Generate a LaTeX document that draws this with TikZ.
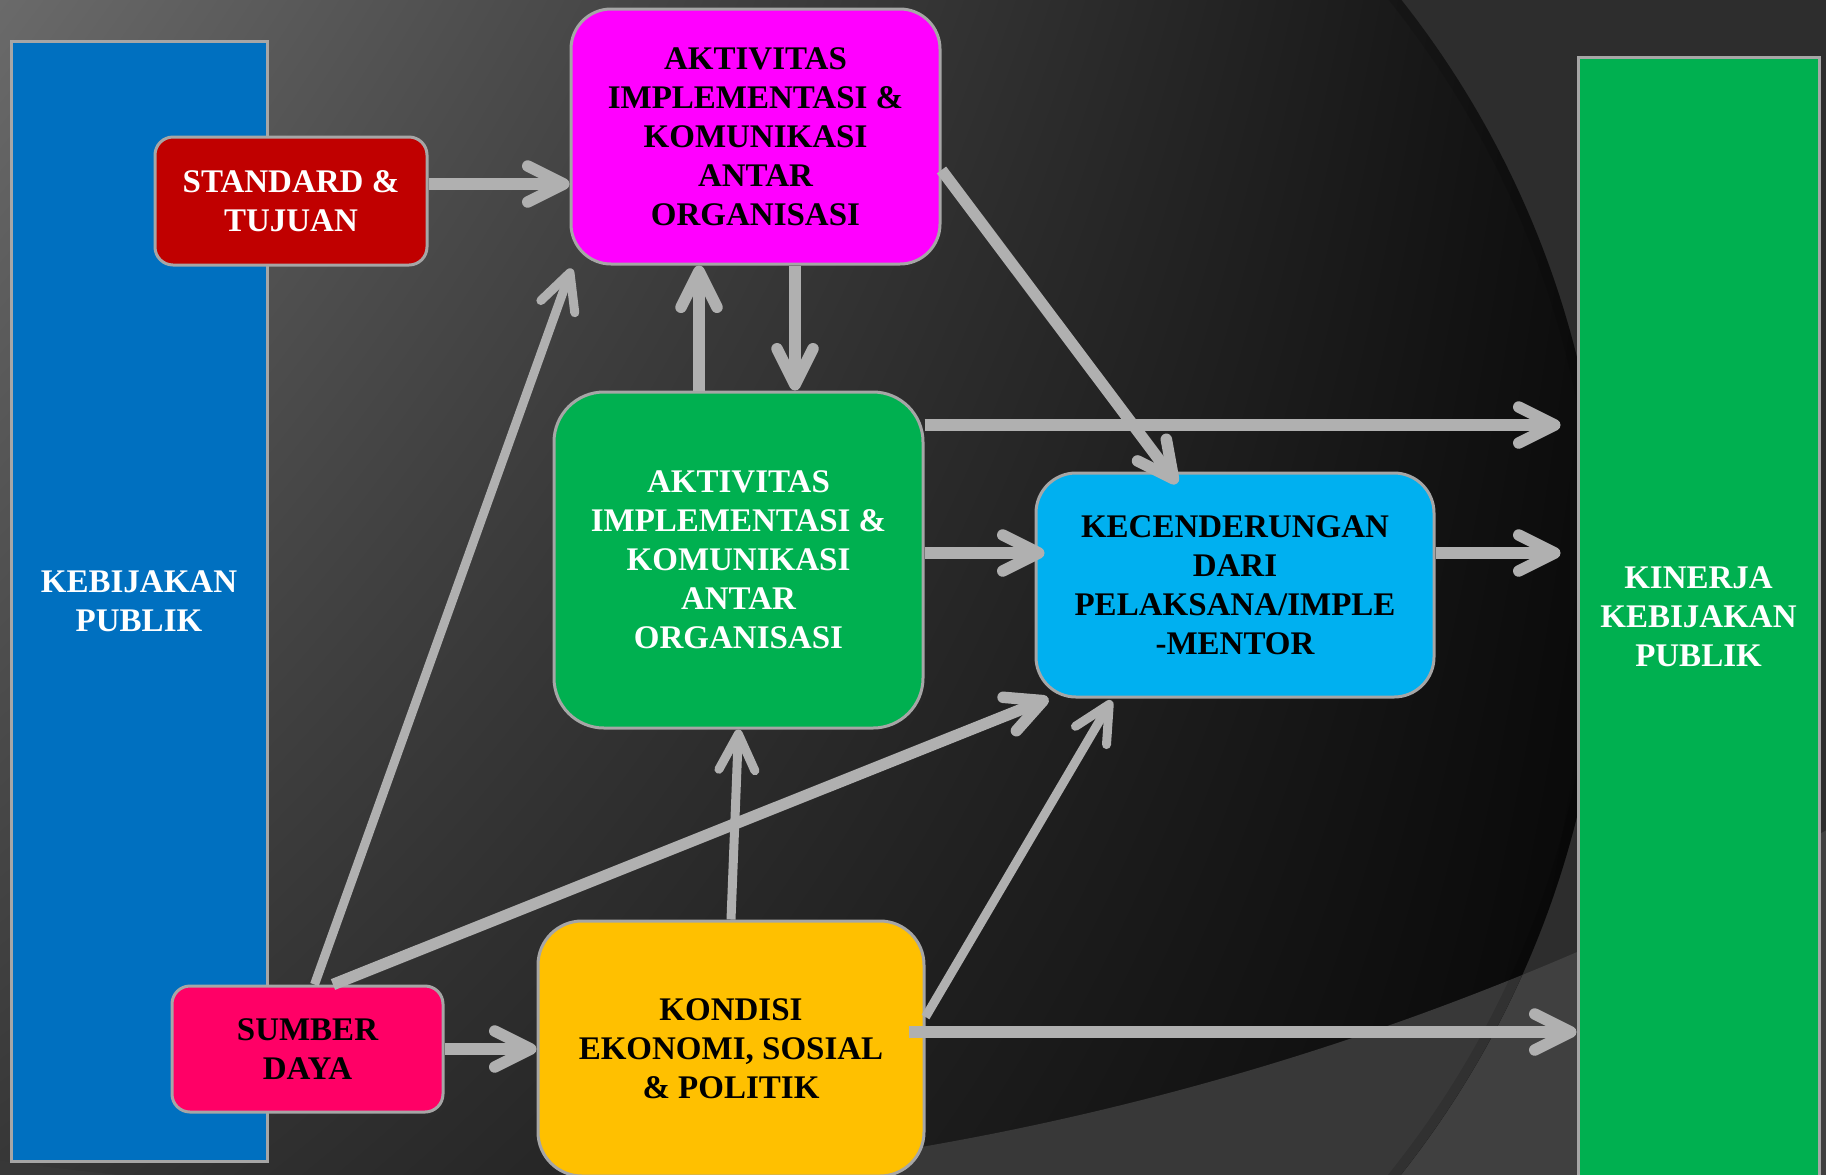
\documentclass[tikz,border=0pt]{standalone}
\usepackage{fontspec}
\setmainfont{Liberation Serif}
\usepackage{tikz}
\usetikzlibrary{arrows.meta, positioning, calc, shadings}

\definecolor{barblue}{HTML}{0070C0}
\definecolor{stdred}{HTML}{C00000}
\definecolor{aktmag}{HTML}{FF00FF}
\definecolor{aktgreen}{HTML}{00B050}
\definecolor{kecblue}{HTML}{00B0F0}
\definecolor{sumpink}{HTML}{FF0066}
\definecolor{konyellow}{HTML}{FFC000}
\definecolor{arrgray}{HTML}{B0B0B0}
\definecolor{edgegray}{HTML}{A6A6A6}
\definecolor{bgout}{HTML}{2D2D2D}
\definecolor{bglow}{HTML}{404040}
\definecolor{bglowin}{HTML}{383838}
\definecolor{bgtl}{HTML}{6B6B6B}
\definecolor{bgbl}{HTML}{363636}

\begin{document}
\begin{tikzpicture}[x=0.5pt, y=-0.5pt]

% ---- Styles ----------------------------------------------------------------
\tikzset{
  lbl/.style={font=\fontsize{16.5}{19.5}\selectfont\bfseries, align=center},
  sidebar/.style={lbl, draw=edgegray, line width=1.5pt, text=white},
  rbox/.style={lbl, draw=edgegray, line width=1.5pt, rounded corners=#1},
  arr/.style={draw=arrgray, line width=5.75pt,
              -{Straight Barb[length=18pt, width=18pt, round]}},
  thinarr/.style={arr, line width=4.5pt},
}

% ---- Background ------------------------------------------------------------
\useasboundingbox (0,0) rectangle (1826,1174);
\clip (-6,-6) rectangle (1832,1180);
\fill[bgout] (-10,-10) rectangle (1840,1190);
\fill[bglow, even odd rule] (-10,-10) rectangle (1840,1190) (418,-1742) circle (2932);
\begin{scope}
  \clip (657,587) circle (948);
  \shade[shading=bilinear interpolation, upper left=bgtl, upper right=black,
         lower left=bgbl, lower right=black]
    (-10,-10) rectangle (1840,1190);
  \fill[bglowin, even odd rule] (-10,-10) rectangle (1840,1190) (418,-1742) circle (2932);
  % soft shadow along the rim
  \draw[black, opacity=0.12, line width=10pt] (657,587) circle (948);
\end{scope}

% ---- Side bars -------------------------------------------------------------
\node[sidebar, fill=barblue, minimum width=128pt, minimum height=560pt]
  (keb) at (139,601) {KEBIJAKAN\\PUBLIK};
\node[sidebar, fill=aktgreen, minimum width=120.5pt, minimum height=560pt]
  (kin) at (1698.5,617) {KINERJA\\KEBIJAKAN\\PUBLIK};

% ---- Boxes -----------------------------------------------------------------
\node[rbox=9pt, fill=stdred, text=white, minimum width=136pt, minimum height=64pt]
  (std) at (291,201) {STANDARD \&\\TUJUAN};
\node[rbox=9pt, fill=sumpink, minimum width=135.5pt, minimum height=63pt]
  (sum) at (307.5,1049) {SUMBER\\DAYA};
\node[rbox=20pt, fill=aktmag, minimum width=184.5pt, minimum height=127.5pt]
  (mag) at (755.5,136.5)
  {AKTIVITAS\\IMPLEMENTASI \&\\KOMUNIKASI\\ANTAR\\ORGANISASI};
\node[rbox=25pt, fill=aktgreen, text=white, minimum width=184.5pt, minimum height=168pt]
  (grn) at (738.5,560)
  {AKTIVITAS\\IMPLEMENTASI \&\\KOMUNIKASI\\ANTAR\\ORGANISASI};
\node[rbox=20pt, fill=kecblue, minimum width=199pt, minimum height=112pt]
  (kec) at (1235,585) {KECENDERUNGAN\\DARI\\PELAKSANA/IMPLE\\-MENTOR};
\node[rbox=22pt, fill=konyellow, minimum width=193pt, minimum height=127.5pt]
  (kon) at (731,1048.5) {KONDISI\\EKONOMI, SOSIAL\\\& POLITIK};

% ---- Connectors ------------------------------------------------------------
\coordinate (a1) at ([yshift=8.5pt]std.east);
\draw[arr] (a1) -- (a1 -| mag.west);
\draw[thinarr] ([xshift=3.5pt]sum.north) -- ([xshift=1pt,yshift=-1.5pt]mag.south west);
\coordinate (a3) at ([xshift=-19.75pt]grn.north);
\draw[arr] (a3) -- (a3 |- mag.south);
\coordinate (a4) at ([xshift=19.75pt]mag.south);
\draw[arr] (a4) -- (a4 |- grn.north);
\draw[arr] ([yshift=-16.75pt]mag.east) -- ([xshift=-29pt,yshift=-6pt]kec.north);
\coordinate (a6) at ([yshift=67.5pt]grn.east);
\draw[arr] (a6) -- ($(a6 -| kin.west)+(-16,0)$);
\coordinate (a7) at ([yshift=3.5pt]grn.east);
\draw[arr] (a7) -- ($(a7 -| kec.west)+(10,0)$);
\coordinate (a8) at ([yshift=16pt]kec.east);
\draw[arr] (a8) -- ($(a8 -| kin.west)+(-16,0)$);
\draw[arr] ([xshift=12.75pt]sum.north) -- ([xshift=7pt]kec.south west);
\draw[thinarr] (kon.north) -- (grn.south);
\draw[thinarr] ([yshift=15.75pt]kon.east) -- ([xshift=38.5pt,yshift=-1pt]kec.south west);
\draw[arr] (sum.east) -- (sum.east -| kon.west);
\coordinate (a13) at ([xshift=-8.5pt,yshift=8.25pt]kon.east);
\draw[arr] (a13) -- (a13 -| kin.west);

\end{tikzpicture}
\end{document}
